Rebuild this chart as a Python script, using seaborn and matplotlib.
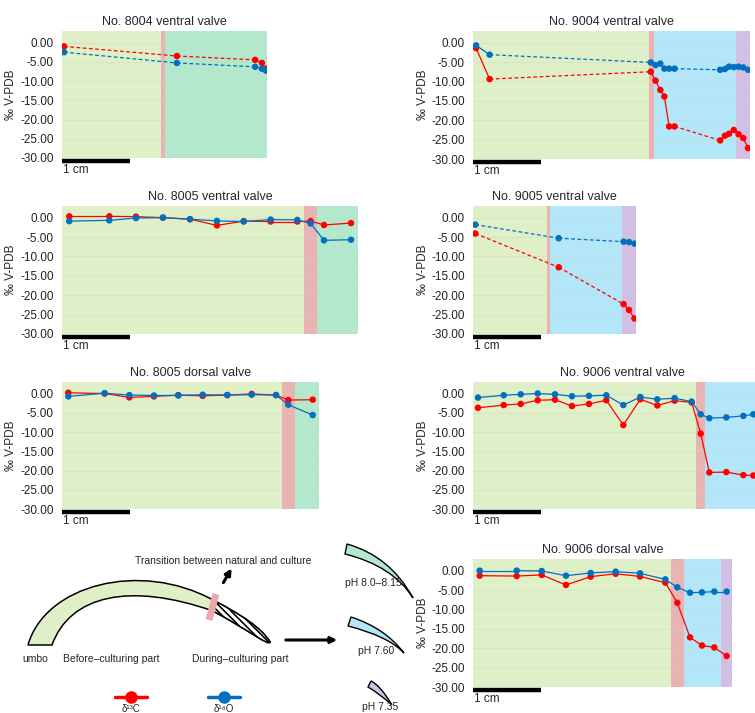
import numpy as np
import matplotlib
matplotlib.use("Agg")
import matplotlib.pyplot as plt
import seaborn as sns
from matplotlib.path import Path
from matplotlib.patches import PathPatch, Rectangle

sns.set_theme(style="white")
plt.rcParams['font.family'] = ['Liberation Sans', 'DejaVu Sans']
plt.rcParams['axes.unicode_minus'] = False
plt.rcParams['hatch.linewidth'] = 1.2

W, H = 755, 713
RED, BLUE = "#ff0000", "#0070c0"
BAND = {"n": "#dff0c9", "t": "#e9b3b3", "g": "#b3e8cc", "b": "#b3e6f8", "p": "#d4bfe4"}

# ---------------- data (x in cm from panel origin, values in permil) ----------------
p8004v_x = [0.03, 1.69, 2.84, 2.94, 3.00]
p8004v_c = [-1.0, -3.5, -4.5, -5.3, -6.8]
p8004v_o = [-2.5, -5.3, -6.3, -6.8, -7.3]
p8004v_dash = [True, True, False, False]
p8004v_bands = [("n", 0, 1.46), ("t", 1.46, 1.51), ("g", 1.51, 3.02)]

p8005v_x = [0.107, 0.696, 1.088, 1.485, 1.882, 2.279, 2.672, 3.069, 3.460, 3.657, 3.853, 4.250]
p8005v_c = [0.34, 0.34, 0.25, 0.0, -0.4, -2.0, -0.9, -1.0, -1.0, -0.9, -1.9, -1.4]
p8005v_o = [-0.9, -0.7, -0.1, 0.0, -0.4, -0.85, -1.0, -0.5, -0.6, -1.5, -5.85, -5.7]
p8005v_dash = [False] * 11
p8005v_bands = [("n", 0, 3.56), ("t", 3.56, 3.755), ("g", 3.755, 4.35)]

p8005d_x = [0.093, 0.627, 0.990, 1.353, 1.710, 2.069, 2.431, 2.790, 3.147, 3.328, 3.687]
p8005d_c = [0.2, 0.0, -1.0, -0.75, -0.4, -0.6, -0.4, -0.1, -0.4, -1.7, -1.6]
p8005d_o = [-0.75, 0.1, -0.4, -0.5, -0.5, -0.3, -0.4, -0.3, -0.4, -2.9, -5.6]
p8005d_dash = [False] * 10
p8005d_bands = [("n", 0, 3.24), ("t", 3.24, 3.426), ("g", 3.426, 3.78)]

p9004v_x = [0.04, 0.24, 2.61, 2.68, 2.75, 2.81, 2.88, 2.96, 3.63, 3.70, 3.76, 3.83, 3.90, 3.97, 4.04]
p9004v_c = [-1.4, -9.4, -7.5, -9.8, -12.2, -13.9, -21.6, -21.6, -25.2, -24.0, -23.5, -22.5, -23.6, -24.6, -27.2]
p9004v_o = [-0.7, -3.1, -5.1, -5.8, -5.4, -6.7, -6.7, -6.7, -7.0, -6.8, -6.2, -6.3, -6.2, -6.4, -7.0]
p9004v_dash = [False, True, False, False, False, False, False, True, False, False, False, False, False, False]
p9004v_bands = [("n", 0, 2.584), ("t", 2.584, 2.652), ("b", 2.652, 3.863), ("p", 3.863, 4.07)]

p9005v_x = [0.03, 1.256, 2.21, 2.29, 2.37]
p9005v_c = [-4.1, -12.8, -22.3, -23.8, -26.0]
p9005v_o = [-1.8, -5.3, -6.2, -6.3, -6.7]
p9005v_dash = [True, True, False, False]
p9005v_bands = [("n", 0, 1.084), ("t", 1.084, 1.123), ("b", 1.123, 2.19), ("p", 2.19, 2.39)]

p9006v_x = [0.069, 0.447, 0.697, 0.947, 1.201, 1.451, 1.701, 1.956, 2.206, 2.456, 2.706, 2.961,
            3.211, 3.344, 3.471, 3.721, 3.971, 4.118]
p9006v_c = [-3.7, -3.0, -2.7, -1.75, -1.6, -3.25, -2.7, -1.75, -8.2, -1.5, -3.1, -1.85,
            -2.3, -10.4, -20.5, -20.4, -21.2, -21.3]
p9006v_o = [-1.05, -0.45, -0.2, 0.0, -0.2, -0.7, -0.6, -0.45, -3.0, -0.9, -1.5, -1.2,
            -2.1, -5.4, -6.4, -6.2, -5.8, -5.4]
p9006v_dash = [False] * 17
p9006v_bands = [("n", 0, 3.275), ("t", 3.275, 3.407), ("b", 3.407, 4.4)]

p9006d_x = [0.094, 0.638, 1.006, 1.363, 1.726, 2.094, 2.451, 2.824, 3.0, 3.187, 3.363, 3.544, 3.726]
p9006d_c = [-1.3, -1.4, -1.1, -3.7, -1.55, -0.8, -1.5, -3.1, -8.3, -17.2, -19.3, -19.8, -22.0]
p9006d_o = [0.0, 0.0, -0.1, -1.3, -0.6, -0.26, -0.7, -2.25, -4.3, -5.7, -5.6, -5.4, -5.4]
p9006d_dash = [False] * 12
p9006d_bands = [("n", 0, 2.912), ("t", 2.912, 3.094), ("b", 3.094, 3.638), ("p", 3.638, 3.81)]

yticks = [0, -5, -10, -15, -20, -25, -30]
ytick_labels = ["0.00", "-5.00", "-10.00", "-15.00", "-20.00", "-25.00", "-30.00"]

panels = [
    ("No. 8004 ventral valve", (62, 267, 31, 158), p8004v_x, p8004v_c, p8004v_o, p8004v_dash, p8004v_bands),
    ("No. 8005 ventral valve", (62, 358, 206, 334), p8005v_x, p8005v_c, p8005v_o, p8005v_dash, p8005v_bands),
    ("No. 8005 dorsal valve", (62, 319, 382, 509), p8005d_x, p8005d_c, p8005d_o, p8005d_dash, p8005d_bands),
    ("No. 9004 ventral valve", (473.3, 750, 31, 159), p9004v_x, p9004v_c, p9004v_o, p9004v_dash, p9004v_bands),
    ("No. 9005 ventral valve", (473.3, 635.7, 206, 334), p9005v_x, p9005v_c, p9005v_o, p9005v_dash, p9005v_bands),
    ("No. 9006 ventral valve", (473.3, 772, 382, 509), p9006v_x, p9006v_c, p9006v_o, p9006v_dash, p9006v_bands),
    ("No. 9006 dorsal valve", (473.3, 732.7, 559, 687), p9006d_x, p9006d_c, p9006d_o, p9006d_dash, p9006d_bands),
]

fig = plt.figure(figsize=(W / 100, H / 100), dpi=100)

ov = fig.add_axes([0, 0, 1, 1], zorder=5)
ov.set_xlim(0, W)
ov.set_ylim(H, 0)
ov.axis("off")
ov.patch.set_alpha(0)

for title, (l, r, t, b), xs, cs, os_, dash, bands in panels:
    ax = fig.add_axes([l / W, 1 - b / H, (r - l) / W, (b - t) / H])
    wcm = (r - l) / 68.0
    for key, a, bb in bands:
        ax.axvspan(a, bb, color=BAND[key], lw=0, zorder=0)
    for v in yticks:
        ax.axhline(v, color="#c8d8b8", lw=0.5, alpha=0.6, zorder=1)
    for ys, col in ((cs, RED), (os_, BLUE)):
        for i in range(len(xs) - 1):
            ax.plot(xs[i:i + 2], ys[i:i + 2], color=col, lw=0.9,
                    ls=(0, (3, 2)) if dash[i] else "-", zorder=3)
        sns.scatterplot(x=xs, y=ys, color=col, s=22, edgecolor="none", ax=ax, zorder=4)
    ax.set_xlim(0, wcm)
    ax.set_ylim(-30, 3)
    ax.set_yticks(yticks)
    ax.set_yticklabels(ytick_labels)
    ax.set_xticks([])
    ax.tick_params(axis="y", length=0, labelsize=8.5, pad=6, colors="#222222")
    for s in ax.spines.values():
        s.set_visible(False)
    ax.set_ylabel("‰ V-PDB", fontsize=8.5, labelpad=2)
    ax.set_title(title, fontsize=9, pad=4)
    ov.plot([l, l + 68], [b + 2.5, b + 2.5], color="black", lw=3.2, solid_capstyle="butt")
    ov.text(l + 1, b + 6, "1 cm", fontsize=8.5, va="top", ha="left")

# ---------------- schematic ----------------
def shell_path():
    verts = [(28, 645), (45, 585), (140, 560), (213, 600),
             (240, 614), (262, 628), (270, 642),
             (268, 646), (252, 632), (213, 611),
             (130, 582), (70, 595), (52, 645), (28, 645)]
    codes = [Path.MOVETO, Path.CURVE4, Path.CURVE4, Path.CURVE4,
             Path.CURVE4, Path.CURVE4, Path.CURVE4,
             Path.CURVE4, Path.CURVE4, Path.CURVE4,
             Path.CURVE4, Path.CURVE4, Path.CURVE4, Path.CLOSEPOLY]
    return Path(verts, codes)

ov.add_patch(PathPatch(shell_path(), facecolor=BAND["n"], edgecolor="black", lw=1.1))
hp = PathPatch(shell_path(), facecolor="white", edgecolor="black", lw=1.1, hatch="\\\\\\\\\\")
ov.add_patch(hp)
clip = Rectangle((213, 560), 80, 100, transform=ov.transData)
hp.set_clip_path(clip)
ov.plot([209, 216], [620, 594], color="#eaa8a8", lw=5, solid_capstyle="butt")

ov.annotate("", xy=(233, 566), xytext=(222, 585),
            arrowprops=dict(arrowstyle="-|>", lw=2.2, color="black", mutation_scale=9))
ov.text(135, 561, "Transition between natural and culture", fontsize=7.5, va="center")
ov.annotate("", xy=(340, 640), xytext=(283, 640),
            arrowprops=dict(arrowstyle="-|>", lw=2.2, color="black", mutation_scale=9))
ov.text(22, 659, "umbo", fontsize=7.5, va="center")
ov.text(63, 659, "Before–culturing part", fontsize=7.5, va="center")
ov.text(192, 659, "During–culturing part", fontsize=7.5, va="center")

def wedge(p_top, p_bot, ctrl_top, ctrl_bot, tip, color):
    verts = [p_top, ctrl_top, tip, ctrl_bot, p_bot, p_top]
    codes = [Path.MOVETO, Path.CURVE3, Path.CURVE3, Path.CURVE3, Path.CURVE3, Path.CLOSEPOLY]
    ov.add_patch(PathPatch(Path(verts, codes), facecolor=color, edgecolor="black", lw=1.0))

wedge((347, 544), (345, 554), (390, 556), (393, 566), (413, 598), BAND["g"])
ov.text(345, 583, "pH 8.0–8.15", fontsize=7.5, va="center")
wedge((351, 617), (348, 626), (385, 628), (388, 636), (404, 653), BAND["b"])
ov.text(358, 651, "pH 7.60", fontsize=7.5, va="center")
wedge((371, 681), (368, 687), (380, 685), (380, 694), (392, 705), BAND["p"])
ov.text(362, 707, "pH 7.35", fontsize=7.5, va="center")

for (x0, col, lab) in ((115, RED, "δ¹³C"), (208, BLUE, "δ¹⁸O")):
    ov.plot([x0, x0 + 32], [697, 697], color=col, lw=2.5)
    ov.plot([x0 + 16], [697], "o", color=col, ms=8)
    ov.text(x0 + 16, 703.5, lab, fontsize=7, ha="center", va="top")

fig.savefig("out.png", dpi=100)
